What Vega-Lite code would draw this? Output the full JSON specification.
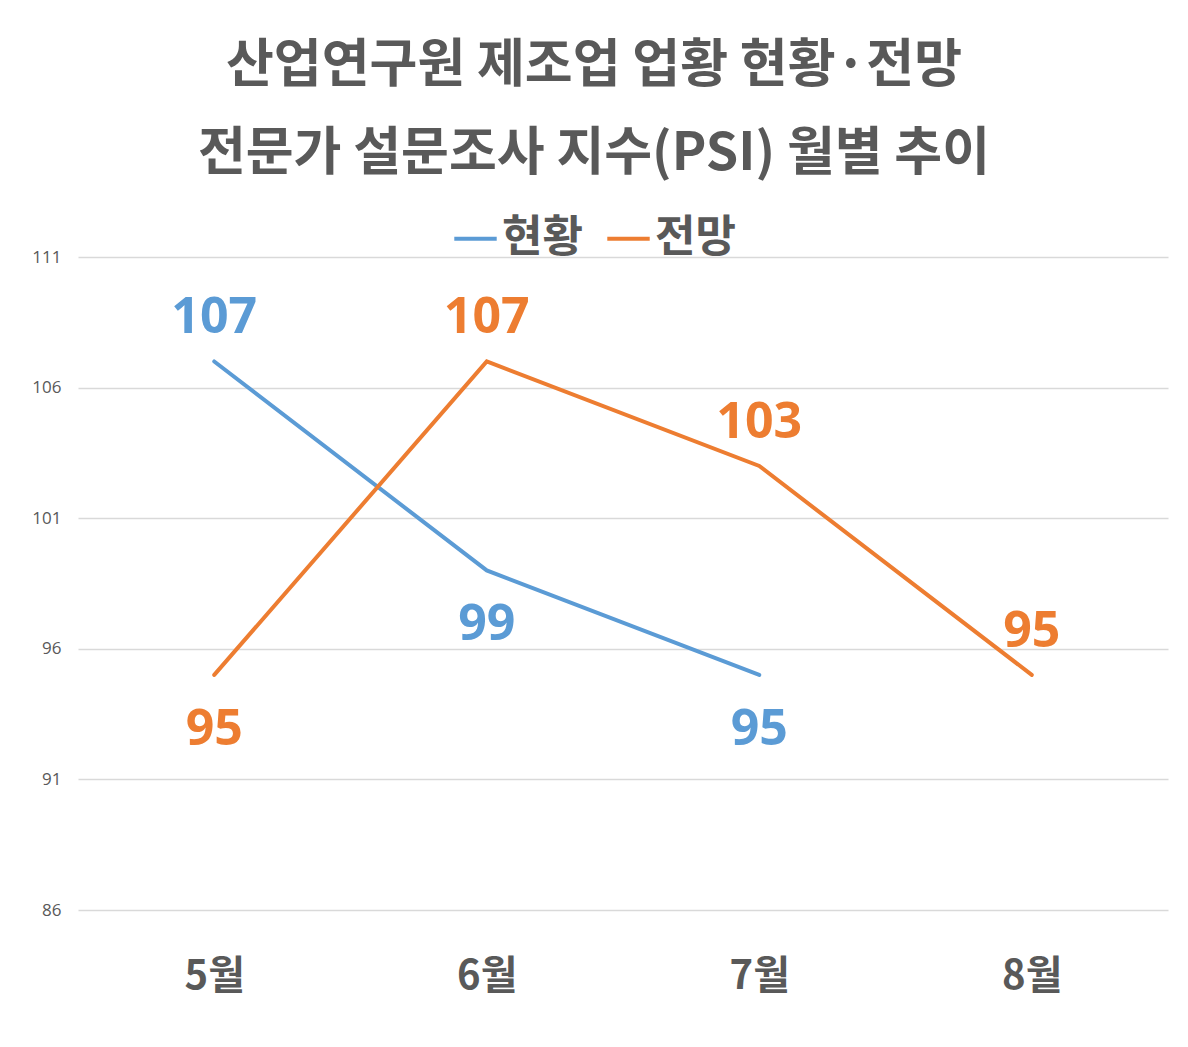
{
  "$schema": "https://vega.github.io/schema/vega-lite/v6.json",
  "width": 1090,
  "height": 653,
  "autosize": {"type": "none"},
  "padding": {"left": 78, "top": 257, "right": 20, "bottom": 137},
  "background": "white",
  "title": {
    "text": ["산업연구원 제조업 업황 현황·전망", "전문가 설문조사 지수(PSI) 월별 추이"],
    "font": "Noto Sans CJK KR",
    "fontSize": 52,
    "fontWeight": "bold",
    "color": "#595959",
    "lineHeight": 88,
    "anchor": "middle",
    "dx": -29,
    "offset": 34
  },
  "data": {
    "values": [
      {"month": "5월", "series": "현황", "value": 107},
      {"month": "6월", "series": "현황", "value": 99},
      {"month": "7월", "series": "현황", "value": 95},
      {"month": "5월", "series": "전망", "value": 95},
      {"month": "6월", "series": "전망", "value": 107},
      {"month": "7월", "series": "전망", "value": 103},
      {"month": "8월", "series": "전망", "value": 95}
    ]
  },
  "encoding": {
    "x": {
      "field": "month",
      "type": "ordinal",
      "sort": ["5월", "6월", "7월", "8월"],
      "scale": {"type": "point", "domain": ["5월", "6월", "7월", "8월"], "padding": 0.5},
      "axis": {
        "title": null,
        "domain": false,
        "ticks": false,
        "grid": false,
        "labelAngle": 0,
        "labelFont": "Noto Sans CJK KR",
        "labelFontSize": 40,
        "labelFontWeight": "bold",
        "labelColor": "#595959",
        "labelPadding": 46
      }
    },
    "y": {
      "field": "value",
      "type": "quantitative",
      "scale": {"domain": [86, 111], "nice": false, "zero": false},
      "axis": {
        "title": null,
        "values": [86, 91, 96, 101, 106, 111],
        "domain": false,
        "ticks": false,
        "grid": true,
        "gridColor": "#d9d9d9",
        "gridWidth": 1.5,
        "labelFont": "Open Sans",
        "labelFontSize": 17,
        "labelColor": "#595959",
        "labelPadding": 17
      }
    },
    "color": {
      "field": "series",
      "type": "nominal",
      "scale": {"domain": ["현황", "전망"], "range": ["#5B9BD5", "#ED7D31"]},
      "legend": {
        "title": null,
        "orient": "none",
        "direction": "horizontal",
        "legendX": 374,
        "legendY": -42,
        "symbolType": "stroke",
        "symbolSize": 1800,
        "symbolStrokeWidth": 4,
        "labelFont": "Noto Sans CJK KR",
        "labelFontSize": 44,
        "labelFontWeight": "bold",
        "labelColor": "#595959",
        "labelOffset": 3,
        "columnPadding": 16
      }
    }
  },
  "layer": [
    {"mark": {"type": "line", "strokeWidth": 4, "strokeCap": "round"}},
    {
      "transform": [{"filter": "(datum.series == '현황' && datum.month == '5월') || (datum.series == '전망' && datum.month != '5월')"}],
      "mark": {"type": "text", "font": "Open Sans", "fontSize": 50, "fontWeight": "bold", "baseline": "alphabetic", "dy": -28},
      "encoding": {"text": {"field": "value", "type": "quantitative"}}
    },
    {
      "transform": [{"filter": "!((datum.series == '현황' && datum.month == '5월') || (datum.series == '전망' && datum.month != '5월'))"}],
      "mark": {"type": "text", "font": "Open Sans", "fontSize": 50, "fontWeight": "bold", "baseline": "alphabetic", "dy": 70},
      "encoding": {"text": {"field": "value", "type": "quantitative"}}
    }
  ],
  "config": {"view": {"stroke": null}}
}
